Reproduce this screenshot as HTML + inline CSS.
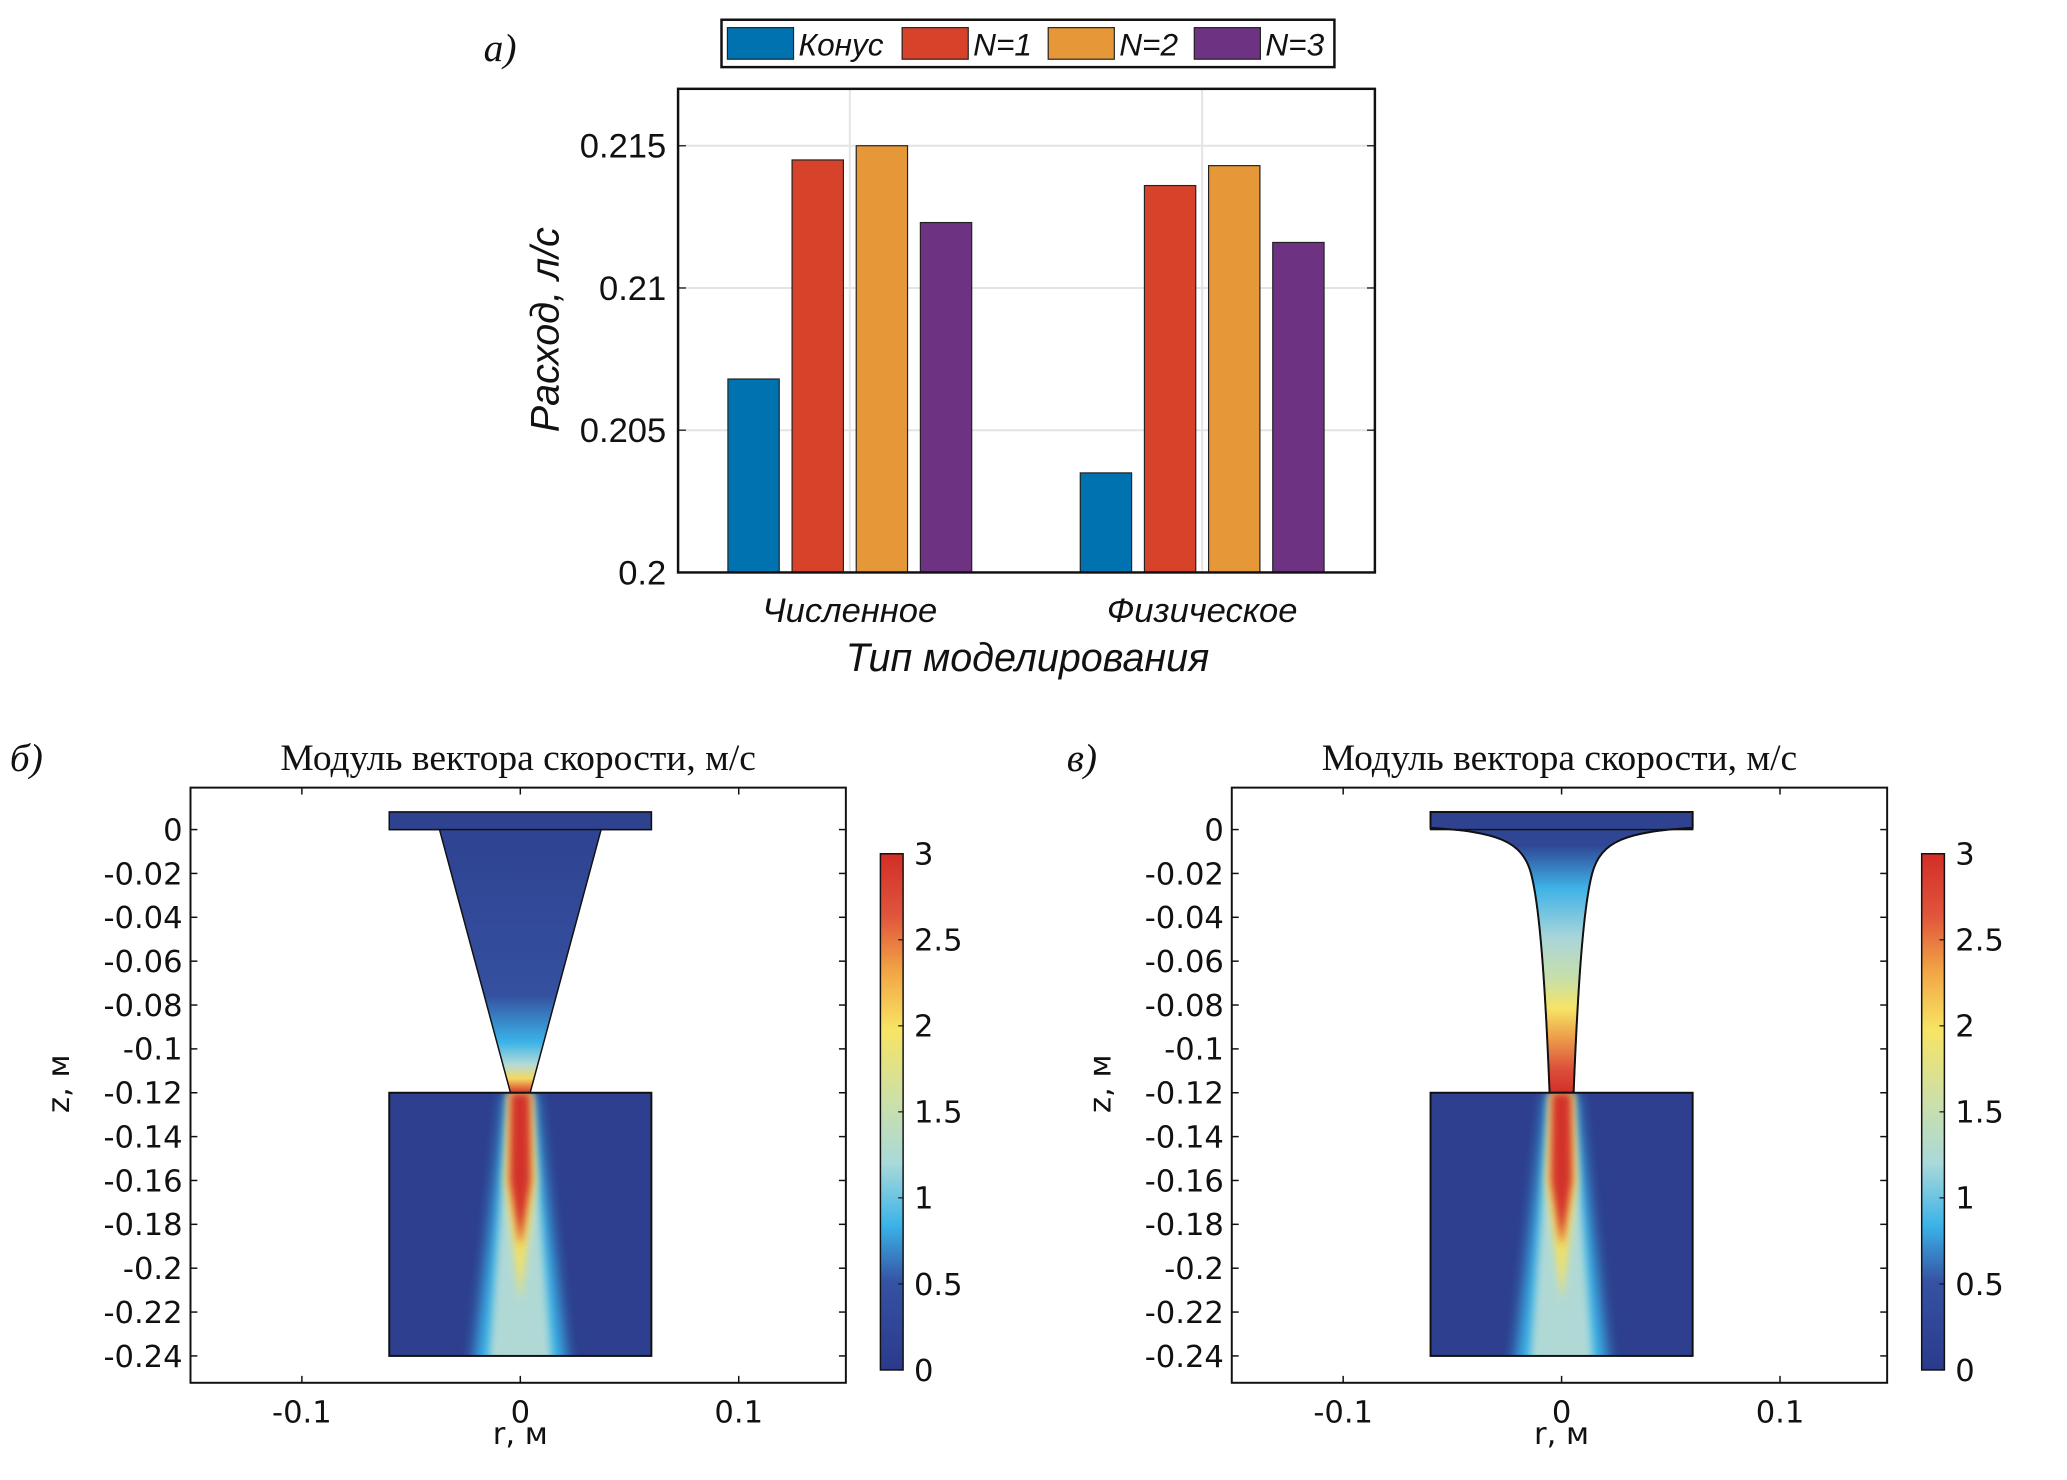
<!DOCTYPE html>
<html><head><meta charset="utf-8"><style>
html,body{margin:0;padding:0;background:#fff;}
svg{display:block;}
.ss{font-family:"Liberation Sans",sans-serif;}
.dv{font-family:"DejaVu Sans","Liberation Sans",sans-serif;}
.sf{font-family:"Liberation Serif",serif;}
</style></head><body>
<svg width="2067" height="1480" viewBox="0 0 2067 1480" xmlns="http://www.w3.org/2000/svg">
<defs>
<linearGradient id="cmap" x1="0" y1="1" x2="0" y2="0">
<stop offset="0" stop-color="#2B3A8C"/><stop offset="0.17" stop-color="#3552A3"/>
<stop offset="0.28" stop-color="#3BB3E8"/><stop offset="0.4" stop-color="#A9D9DA"/>
<stop offset="0.53" stop-color="#CFE0A4"/><stop offset="0.66" stop-color="#F7E463"/>
<stop offset="0.77" stop-color="#F2A646"/><stop offset="0.88" stop-color="#E0553C"/>
<stop offset="1" stop-color="#D22E27"/></linearGradient>
<filter id="blur" x="-50%" y="-10%" width="200%" height="120%"><feGaussianBlur stdDeviation="7"/></filter>
<filter id="blur2" x="-50%" y="-10%" width="200%" height="120%"><feGaussianBlur stdDeviation="4"/></filter>
<linearGradient id="coneL" x1="0" y1="0" x2="0" y2="1">
<stop offset="0" stop-color="#2E4290"/><stop offset="0.65" stop-color="#34509F"/>
<stop offset="0.82" stop-color="#3BB3E8"/><stop offset="0.9" stop-color="#B5DBD6"/>
<stop offset="0.95" stop-color="#F5D860"/><stop offset="1" stop-color="#D8342B"/></linearGradient>
<linearGradient id="coneR" x1="0" y1="0" x2="0" y2="1">
<stop offset="0" stop-color="#2E4290"/><stop offset="0.12" stop-color="#2F4896"/>
<stop offset="0.27" stop-color="#3EB2E6"/><stop offset="0.45" stop-color="#AAD6DA"/>
<stop offset="0.6" stop-color="#C9DFA6"/><stop offset="0.7" stop-color="#F6E466"/>
<stop offset="0.8" stop-color="#EDA04A"/><stop offset="0.92" stop-color="#DC4D39"/>
<stop offset="1" stop-color="#D2302A"/></linearGradient>
</defs>
<g id="fig" transform="scale(0.987)"></g>
</svg>
<script>
// ---------- bar chart data ----------
const categories = ["Численное", "Физическое"];
const seriesNames = ["Конус", "N=1", "N=2", "N=3"];
const seriesColors = ["#0072B0", "#D7432A", "#E69839", "#6E3282"];
const valuesKonus = [0.2068, 0.2035];
const valuesN1 = [0.2145, 0.2136];
const valuesN2 = [0.2150, 0.2143];
const valuesN3 = [0.2123, 0.2116];
const yTicks = [0.2, 0.205, 0.21, 0.215];
const yTickLabels = ["0.2", "0.205", "0.21", "0.215"];
// ---------- field plot ticks ----------
const zTicks = [0,-0.02,-0.04,-0.06,-0.08,-0.1,-0.12,-0.14,-0.16,-0.18,-0.2,-0.22,-0.24];
const zTickLabels = ["0","-0.02","-0.04","-0.06","-0.08","-0.1","-0.12","-0.14","-0.16","-0.18","-0.2","-0.22","-0.24"];
const rTicks = [-0.1, 0, 0.1];
const rTickLabels = ["-0.1", "0", "0.1"];
const cbTicks = [0, 0.5, 1, 1.5, 2, 2.5, 3];
const cbTickLabels = ["0", "0.5", "1", "1.5", "2", "2.5", "3"];

const NS = "http://www.w3.org/2000/svg";
const svg = document.getElementById('fig');
function mk(tag, attrs, parent, text){
  const e = document.createElementNS(NS, tag);
  for (const k in attrs) e.setAttribute(k, attrs[k]);
  if (text !== undefined) e.textContent = text;
  (parent || svg).appendChild(e);
  return e;
}

// ===== Bar chart (a) =====
const ax = {l:687, r:1393, t:90, b:580, ymin:0.2, ymax:0.217};
const yS = v => ax.b - (v - ax.ymin) / (ax.ymax - ax.ymin) * (ax.b - ax.t);
const groupCenters = [861, 1218];
const barW = 52, barStep = 65;
const gBar = mk('g', {});


mk('rect', {x:ax.l, y:ax.t, width:ax.r-ax.l, height:ax.b-ax.t, fill:'#fff'}, gBar);
yTicks.forEach((t,i) => {
  if (i>0) mk('line', {x1:ax.l, x2:ax.r, y1:yS(t), y2:yS(t), stroke:'#e4e4e4', 'stroke-width':2}, gBar);
  mk('line', {x1:ax.l, x2:ax.l+8, y1:yS(t), y2:yS(t), stroke:'#333', 'stroke-width':1.5}, gBar);
  mk('line', {x1:ax.r, x2:ax.r-8, y1:yS(t), y2:yS(t), stroke:'#333', 'stroke-width':1.5}, gBar);
  const tl = mk('text', {x:ax.l-12, y:yS(t)+12, 'text-anchor':'end', 'font-size':35, class:'ss', fill:'#111'}, gBar, yTickLabels[i]);
  
  
});
groupCenters.forEach(c => {
  mk('line', {x1:c, x2:c, y1:ax.t, y2:ax.b, stroke:'#e4e4e4', 'stroke-width':2}, gBar);
});
const allSeries = [valuesKonus, valuesN1, valuesN2, valuesN3];
allSeries.forEach((vals, s) => {
  vals.forEach((v, g) => {
    const x = groupCenters[g] + (s - 1.5) * barStep - barW/2;
    const b = mk('rect', {x:x, y:yS(v), width:barW, height:ax.b - yS(v), fill:seriesColors[s], stroke:'#222', 'stroke-width':1.2}, gBar);
    
    
  });
});
mk('rect', {x:ax.l, y:ax.t, width:ax.r-ax.l, height:ax.b-ax.t, fill:'none', stroke:'#111', 'stroke-width':2.5}, gBar);
categories.forEach((c,i) => {
  const t = mk('text', {x:groupCenters[i], y:630, 'text-anchor':'middle', 'font-size':35, 'font-style':'italic', class:'ss', fill:'#111'}, gBar, c);
  
  
});
let t1 = mk('text', {x:1041, y:680, 'text-anchor':'middle', 'font-size':40, 'font-style':'italic', class:'ss', fill:'#111'}, gBar, 'Тип моделирования');
 
t1 = mk('text', {x:0, y:0, 'text-anchor':'middle', 'font-size':40, 'font-style':'italic', class:'ss', fill:'#111', transform:'translate(566,334) rotate(-90)'}, gBar, 'Расход, л/с');
 
t1 = mk('text', {x:490, y:62, 'font-size':40, 'font-style':'italic', class:'sf', fill:'#111'}, gBar, 'а)');
 
// legend
const lg = mk('g', {}, gBar);
 
mk('rect', {x:731, y:20, width:621, height:48, fill:'#fff', stroke:'#111', 'stroke-width':2.5}, lg);
const lgX = [737, 914, 1062, 1210];
seriesNames.forEach((n,i) => {
  const e = mk('g', {}, lg);
   
  mk('rect', {x:lgX[i], y:28, width:67, height:32, fill:seriesColors[i], stroke:'#222', 'stroke-width':1.2}, e);
  mk('text', {x:lgX[i]+72, y:56, 'font-size':32, 'font-style':'italic', class:'ss', fill:'#111'}, e, n);
});

// ===== Field panels =====
function panel(ox, kind, label){
  const P = {l:193+ox, r:857+ox, t:798, b:1401};
  const r0 = 193 + ox + 0.151*2213;
  const X = r => r0 + r*2213;
  const zY = z => 840.5 - z*2222;
  const g = mk('g', {});
  
  
  const cid = 'clip' + kind;
  const defs = mk('defs', {}, g);
  const cp = mk('clipPath', {id:cid}, defs);
  let upper;
  if (kind === 'cone') {
    upper = `M${X(-0.06)},${zY(0.008)} L${X(0.06)},${zY(0.008)} L${X(0.06)},${zY(0)} L${X(0.037)},${zY(0)} L${X(0.0045)},${zY(-0.12)} L${X(-0.0045)},${zY(-0.12)} L${X(-0.037)},${zY(0)} L${X(-0.06)},${zY(0)} Z`;
  } else {
    upper = `M${X(-0.06)},${zY(0.008)} L${X(0.06)},${zY(0.008)} L${X(0.06)},${zY(0.0008)} C${X(0.03)},${zY(-0.001)} ${X(0.018)},${zY(-0.005)} ${X(0.014)},${zY(-0.02)} C${X(0.01)},${zY(-0.035)} ${X(0.0075)},${zY(-0.07)} ${X(0.0055)},${zY(-0.12)} L${X(-0.0055)},${zY(-0.12)} C${X(-0.0075)},${zY(-0.07)} ${X(-0.01)},${zY(-0.035)} ${X(-0.014)},${zY(-0.02)} C${X(-0.018)},${zY(-0.005)} ${X(-0.03)},${zY(-0.001)} ${X(-0.06)},${zY(0.0008)} Z`;
  }
  mk('rect', {x:X(-0.06), y:zY(-0.12), width:X(0.06)-X(-0.06), height:zY(-0.24)-zY(-0.12)}, cp);
  const up = mk('path', {d:upper, fill:'url(#'+(kind==='cone'?'coneL':'coneR')+')', stroke:'#111', 'stroke-width':1.5}, g);
   
  mk('rect', {x:X(-0.06), y:zY(0.008), width:X(0.06)-X(-0.06), height:zY(0)-zY(0.008), fill:'#2E4290', stroke:'#111', 'stroke-width':1.5}, g);
  if (kind !== 'cone') mk('path', {d:upper, fill:'none', stroke:'#111', 'stroke-width':2}, g);
  const lo = mk('g', {'clip-path':'url(#'+cid+')'}, g);
   
  mk('rect', {x:X(-0.06), y:zY(-0.12), width:X(0.06)-X(-0.06), height:zY(-0.24)-zY(-0.12), fill:'#2D3F8E'}, lo);
  mk('path', {d:`M${X(-0.007)},${zY(-0.12)} L${X(0.007)},${zY(-0.12)} L${X(0.022)},${zY(-0.25)} L${X(-0.022)},${zY(-0.25)} Z`, fill:'#3BB3E8', filter:'url(#blur)'}, lo);
  mk('path', {d:`M${X(-0.005)},${zY(-0.12)} L${X(0.005)},${zY(-0.12)} L${X(0.015)},${zY(-0.25)} L${X(-0.015)},${zY(-0.25)} Z`, fill:'#B0D9D6', filter:'url(#blur2)'}, lo);
  mk('path', {d:`M${X(-0.0055)},${zY(-0.12)} L${X(0.0055)},${zY(-0.12)} L${X(0.007)},${zY(-0.16)} L${X(0.0)},${zY(-0.215)} L${X(-0.007)},${zY(-0.16)} Z`, fill:'#F4E060', filter:'url(#blur2)'}, lo);
  mk('path', {d:`M${X(-0.0045)},${zY(-0.12)} L${X(0.0045)},${zY(-0.12)} L${X(0.005)},${zY(-0.16)} L${X(0)},${zY(-0.19)} L${X(-0.005)},${zY(-0.16)} Z`, fill:'#D3302A', filter:'url(#blur2)'}, lo);
  mk('rect', {x:X(-0.06), y:zY(-0.12), width:X(0.06)-X(-0.06), height:zY(-0.24)-zY(-0.12), fill:'none', stroke:'#111', 'stroke-width':2}, g);
  mk('rect', {x:P.l, y:P.t, width:P.r-P.l, height:P.b-P.t, fill:'none', stroke:'#111', 'stroke-width':2}, g);
  zTicks.forEach((z,i) => {
    mk('line', {x1:P.l, x2:P.l+7, y1:zY(z), y2:zY(z), stroke:'#111', 'stroke-width':1.5}, g);
    mk('line', {x1:P.r, x2:P.r-7, y1:zY(z), y2:zY(z), stroke:'#111', 'stroke-width':1.5}, g);
    const t = mk('text', {x:P.l-8, y:zY(z)+11, 'text-anchor':'end', 'font-size':31, class:'dv', fill:'#111'}, g, zTickLabels[i]);
     
  });
  rTicks.forEach((r,i) => {
    mk('line', {x1:X(r), x2:X(r), y1:P.b, y2:P.b-7, stroke:'#111', 'stroke-width':1.5}, g);
    mk('line', {x1:X(r), x2:X(r), y1:P.t, y2:P.t+7, stroke:'#111', 'stroke-width':1.5}, g);
    const t = mk('text', {x:X(r), y:1441, 'text-anchor':'middle', 'font-size':31, class:'dv', fill:'#111'}, g, rTickLabels[i]);
     
  });
  let t = mk('text', {x:X(0), y:1463, 'text-anchor':'middle', 'font-size':31, class:'dv', fill:'#111'}, g, 'r, м');
   
  t = mk('text', {x:0, y:0, 'text-anchor':'middle', 'font-size':31, class:'dv', fill:'#111', transform:`translate(${70+ox},1098) rotate(-90)`}, g, 'z, м');
   
  t = mk('text', {x:(P.l+P.r)/2, y:780, 'text-anchor':'middle', 'font-size':38, class:'sf', fill:'#111'}, g, 'Модуль вектора скорости, м/с');
   
  t = mk('text', {x:10+ox*1.015, y:781, 'font-size':40, 'font-style':'italic', class:'sf', fill:'#111'}, g, label);
   
  const cb = mk('g', {}, g);
   
  const cbT = 865, cbB = 1388, cbL = 892+ox, cbW = 23;
  mk('rect', {x:cbL, y:cbT, width:cbW, height:cbB-cbT, fill:'url(#cmap)', stroke:'#111', 'stroke-width':1.5}, cb);
  cbTicks.forEach((v,i) => {
    const y = cbB - v/3*(cbB-cbT);
    mk('line', {x1:cbL+cbW-5, x2:cbL+cbW, y1:y, y2:y, stroke:'#111', 'stroke-width':1.2}, cb);
    mk('text', {x:cbL+cbW+11, y:y+11, 'font-size':31, class:'dv', fill:'#111'}, cb, cbTickLabels[i]);
  });
}
panel(0, 'cone', 'б)');
panel(1055, 'funnel', 'в)');
</script>
</body></html>
